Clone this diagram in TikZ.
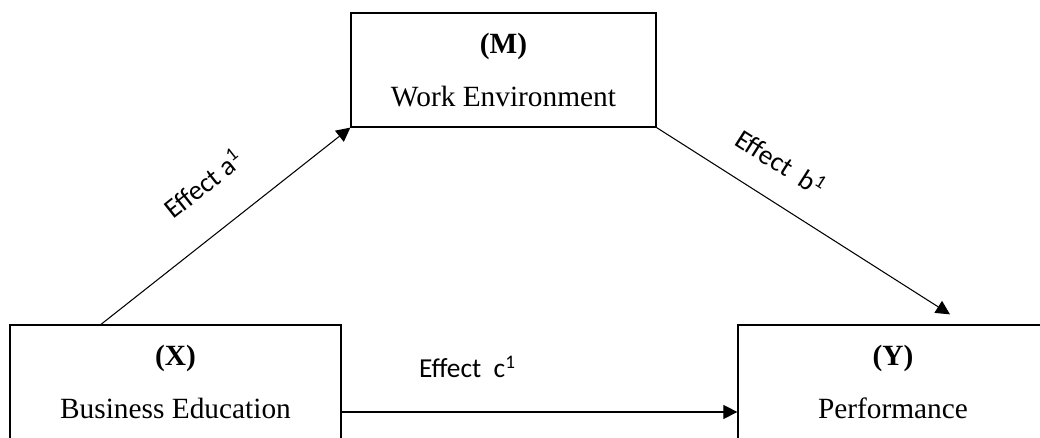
\documentclass[tikz,border=0pt]{standalone}
\usepackage{fontspec}
\setmainfont{Liberation Serif}
\newfontfamily\carlito{Carlito}
\usepackage{tikz}
\usetikzlibrary{arrows.meta}

\tikzset{
  varbox/.style={draw=black,line width=0.7pt,minimum height=2.28cm,inner sep=0pt,align=center,
    font=\fontsize{16.7}{20}\selectfont},
  efflabel/.style={font=\carlito\fontsize{15.6}{18}\selectfont,inner sep=0pt},
  effarrow/.style={line width=0.6pt,-{Triangle[length=0.28cm,width=0.28cm]}}
}

\begin{document}
\begin{tikzpicture}
  \useasboundingbox (0,0) rectangle (20.8,8.76);
  \clip (0,0) rectangle (20.8,8.76);
  \draw (10.07,7.36) node[varbox,minimum width=6.1cm] (M) {\textbf{(M)}\\[10pt]Work Environment};
  \draw (3.51,1.12) node[varbox,minimum width=6.62cm] (X) {\textbf{(X)}\\[10pt]Business Education};
  \draw (17.86,1.12) node[varbox,minimum width=6.2cm] (Y) {\textbf{(Y)}\\[10pt]Performance};
  \coordinate (bTip) at ([xshift=1.14cm,yshift=0.2cm]Y.north);

  \draw[effarrow] ([xshift=-1.49cm]X.north) -- (M.south west);
  \draw[effarrow] (M.south east) -- (bTip);
  \draw[effarrow] ([yshift=-0.6cm]X.east) -- ([yshift=-0.6cm]Y.west);

  \node[efflabel,rotate=38.4] (La) at (4.06,5.10) {Effect a\textsuperscript{1}};
  \node[efflabel,rotate=-32.5] (Lb) at (15.62,5.52) {Effect~~b\textsuperscript{1}};
  \node[efflabel] (Lc) at (9.35,1.42) {Effect~~c\textsuperscript{1}};
\end{tikzpicture}
\end{document}
